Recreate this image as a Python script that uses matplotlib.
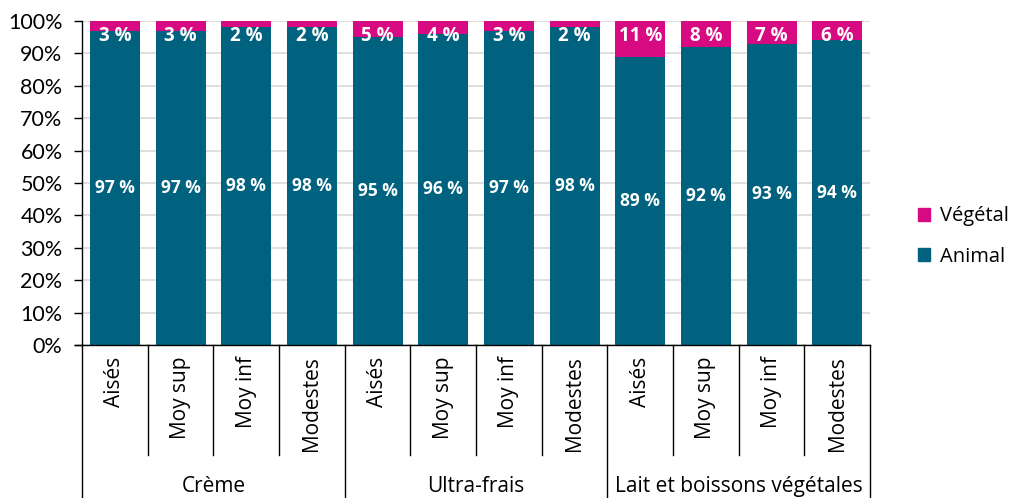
import matplotlib
matplotlib.use("Agg")
import matplotlib.pyplot as plt
import matplotlib.transforms as mtransforms
from matplotlib.patches import Patch

groups = ["Crème", "Ultra-frais", "Lait et boissons végétales"]
categories = ["Aisés", "Moy sup", "Moy inf", "Modestes"]
animal = [97, 97, 98, 98, 95, 96, 97, 98, 89, 92, 93, 94]
vegetal = [3, 3, 2, 2, 5, 4, 3, 2, 11, 8, 7, 6]

c_animal = "#00627F"
c_veg = "#D70A82"

plt.rcParams['font.family'] = ['Lato', 'DejaVu Sans']
OS = ["Open Sans", "DejaVu Sans"]

fig = plt.figure(figsize=(10.13, 4.98), dpi=100)
ax = fig.add_axes([0.081, 0.307, 0.778, 0.651])

n = len(animal)
x = list(range(n))
ax.bar(x, animal, width=0.76, color=c_animal, zorder=2, label="Animal")
ax.bar(x, vegetal, bottom=animal, width=0.76, color=c_veg, zorder=2, label="Végétal")

for xi, a, v in zip(x, animal, vegetal):
    ax.text(xi, a / 2, f"{a} %", ha="center", va="center", color="white",
            fontsize=12.5, fontweight="bold", family=OS, zorder=3)
    ax.text(xi, 95.3, f"{v} %", ha="center", va="center", color="white",
            fontsize=13.5, fontweight="bold", family=OS, zorder=3)

ax.set_xlim(-0.5, n - 0.5)
ax.set_ylim(0, 100)
ax.set_yticks(range(0, 101, 10))
ax.set_yticklabels([f"{t}%" for t in range(0, 101, 10)], fontsize=15.5)
ax.yaxis.grid(True, color="#D9D9D9", linewidth=1.2, zorder=0)
ax.set_axisbelow(True)
ax.tick_params(axis="y", length=6, width=1, color="black", pad=8)
ax.set_xticks([])
for s in ["top", "right"]:
    ax.spines[s].set_visible(False)
ax.spines["left"].set_color("black")
ax.spines["bottom"].set_color("black")
ax.spines["left"].set_linewidth(1)
ax.spines["bottom"].set_linewidth(1)

trans = mtransforms.blended_transform_factory(ax.transData, ax.transAxes)
# bottom spine extension to the left
ax.plot([-0.61, -0.5], [0, 0], transform=trans, color="black", lw=1, clip_on=False)

ng = len(categories)
for i in range(n):
    ax.text(x[i], -0.035, categories[i % ng], rotation=90, ha="center", va="top",
            fontsize=15, transform=trans, family=OS)
for b in range(n + 1):
    xb = b - 0.5
    if b % ng == 0:
        ax.plot([xb, xb], [0, -0.475], transform=trans, color="black", lw=1, clip_on=False)
    else:
        ax.plot([xb, xb], [0, -0.34], transform=trans, color="black", lw=1, clip_on=False)
for g, name in enumerate(groups):
    ax.text(g * ng + (ng - 1) / 2, -0.435, name, ha="center", va="center",
            fontsize=15, transform=trans, family=OS)

handles = [Patch(color=c_veg, label="Végétal"), Patch(color=c_animal, label="Animal")]
fig.legend(handles=handles, loc="center left", bbox_to_anchor=(0.888, 0.525),
           frameon=False, prop={"family": OS, "size": 14.5}, handlelength=0.6,
           handleheight=0.6, handletextpad=0.5, labelspacing=1.0)

fig.savefig("out.png", dpi=100)
